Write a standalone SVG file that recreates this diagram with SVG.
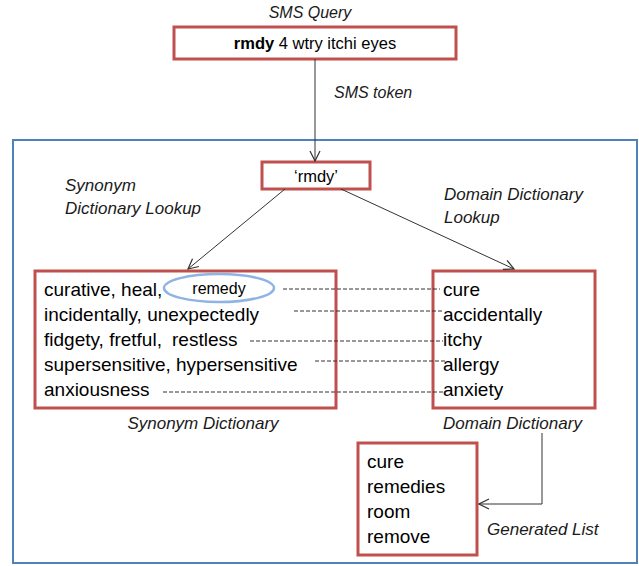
<svg xmlns="http://www.w3.org/2000/svg" width="639" height="566" viewBox="0 0 639 566">
<defs>
<style>
.box{fill:none;stroke:#c0504d;stroke-width:3}
.t{font-family:"Liberation Sans",Arial,sans-serif;font-size:19px;fill:#000}
.lab{font-family:"Liberation Sans",Arial,sans-serif;font-size:17px;font-style:italic;fill:#1a1a1a}
.con{stroke:#333;stroke-width:1;fill:none}
.dash{stroke:#333;stroke-width:1;fill:none;stroke-dasharray:4 2}
</style>
<marker id="arr" viewBox="0 0 12 12" refX="11" refY="6" markerWidth="12" markerHeight="12" markerUnits="userSpaceOnUse" orient="auto">
<path d="M1,1 L11,6 L1,11" fill="none" stroke="#333" stroke-width="1.2"/>
</marker>
</defs>
<rect x="13" y="140" width="624" height="423" fill="#fff" stroke="#4f81bd" stroke-width="2"/>
<g id="sms-query-label"><text class="lab" x="310" y="18" text-anchor="middle" style="font-size:16px">SMS Query</text></g>
<g id="sms-query">
<rect class="box" x="174" y="27" width="282" height="32"/>
<text class="t" x="315" y="49" text-anchor="middle" style="font-size:16.5px"><tspan font-weight="bold">rmdy</tspan> 4 wtry itchi eyes</text>
</g>
<g id="sms-token-label"><text class="lab" x="334" y="98" style="font-size:16px">SMS token</text></g>
<g id="token">
<rect class="box" x="262" y="162" width="108" height="27"/>
<text class="t" x="316" y="182" text-anchor="middle" style="font-size:16.5px">‘rmdy’</text>
</g>
<g id="synonym-lookup-label">
<text class="lab" x="65" y="191">Synonym</text>
<text class="lab" x="65" y="214">Dictionary Lookup</text>
</g>
<g id="domain-lookup-label">
<text class="lab" x="444" y="200">Domain Dictionary</text>
<text class="lab" x="444" y="223">Lookup</text>
</g>
<g id="synonym-dictionary">
<rect class="box" x="35" y="271" width="301" height="137"/>
<ellipse cx="219" cy="288" rx="55" ry="14" fill="none" stroke="#8eb4e3" stroke-width="2.5"/>
<text class="t" x="44" y="296">curative, heal,</text>
<text class="t" x="219" y="294" text-anchor="middle" style="font-size:16px">remedy</text>
<text class="t" x="44" y="321">incidentally, unexpectedly</text>
<text class="t" x="44" y="346">fidgety, fretful,<tspan x="172">restless</tspan></text>
<text class="t" x="44" y="371">supersensitive,<tspan x="176">hypersensitive</tspan></text>
<text class="t" x="44" y="396">anxiousness</text>
<text class="lab" x="203" y="429" text-anchor="middle">Synonym Dictionary</text>
</g>
<g id="domain-dictionary">
<rect class="box" x="433" y="271" width="162" height="137"/>
<text class="t" x="443" y="296">cure</text>
<text class="t" x="443" y="321">accidentally</text>
<text class="t" x="443" y="346">itchy</text>
<text class="t" x="443" y="371">allergy</text>
<text class="t" x="443" y="396">anxiety</text>
<text class="lab" x="443" y="429">Domain Dictionary</text>
</g>
<g id="generated-list">
<rect class="box" x="358" y="443" width="119" height="112"/>
<text class="t" x="367" y="468">cure</text>
<text class="t" x="367" y="493">remedies</text>
<text class="t" x="367" y="518">room</text>
<text class="t" x="367" y="543">remove</text>
<text class="lab" x="487" y="535">Generated List</text>
</g>
<g id="connectors">
<line class="con" x1="315" y1="59" x2="315" y2="161" marker-end="url(#arr)"/>
<line class="con" x1="285" y1="189" x2="188" y2="269" marker-end="url(#arr)"/>
<line class="con" x1="341" y1="189" x2="514" y2="269" marker-end="url(#arr)"/>
<polyline class="con" points="542,433 542,504 479,504" marker-end="url(#arr)"/>
<line class="dash" x1="283" y1="289" x2="440" y2="289"/>
<line class="dash" x1="294" y1="311" x2="444" y2="311"/>
<line class="dash" x1="250" y1="341" x2="443" y2="341"/>
<line class="dash" x1="315" y1="361" x2="445" y2="361"/>
<line class="dash" x1="163" y1="392" x2="443" y2="392"/>
</g>
</svg>
